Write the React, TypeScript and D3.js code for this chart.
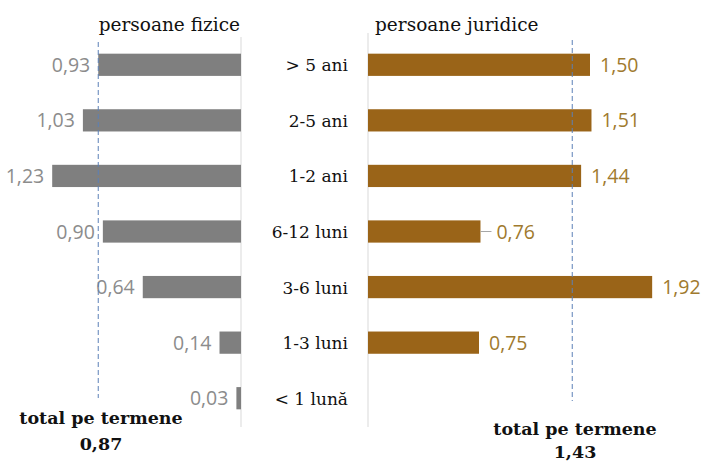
import * as d3 from 'd3';
import React from 'react';

const categories = ['> 5 ani', '2-5 ani', '1-2 ani', '6-12 luni', '3-6 luni', '1-3 luni', '< 1 lună'];
const fiziceValues = [0.93, 1.03, 1.23, 0.9, 0.64, 0.14, 0.03];
const juridiceValues = [1.5, 1.51, 1.44, 0.76, 1.92, 0.75, null];
const totals = [0.87, 1.43];
// where the dashed reference lines sit in the picture
const totalLineAt = [0.93, 1.38];
const titles = ['persoane fizice', 'persoane juridice'];

const W = 702;
const H = 463;
const AXIS_L = 241;
const AXIS_R = 368;

const fmt = (v: number) => v.toFixed(2).replace('.', ',');

export default function App() {
    const y = d3.scaleBand<string>().domain(categories).range([37, 426]).paddingInner(0.6).paddingOuter(0.3);
    const xl = d3.scaleLinear().domain([0, 1]).range([0, 153.5]);
    const xr = d3.scaleLinear().domain([0, 1]).range([0, 148]);
    const bh = y.bandwidth();
    const serif = '"DejaVu Serif", serif';
    const sans = '"Open Sans", sans-serif';

    const leftLine = AXIS_L - xl(totalLineAt[0]);
    const rightLine = AXIS_R + xr(totalLineAt[1]);

    return (
        <svg width={W} height={H} style={{ position: 'absolute', left: 0, top: 0, background: '#fff' }}>
            {/* axes */}
            <line x1={AXIS_L} x2={AXIS_L} y1={37} y2={427} stroke="#d9d9d9" />
            <line x1={AXIS_R} x2={AXIS_R} y1={33} y2={427} stroke="#d9d9d9" />

            <text x={AXIS_L - 1} y={31} textAnchor="end" fontFamily={serif} fontSize={18.5} fill="#111">
                {titles[0]}
            </text>
            <text x={375} y={31} fontFamily={serif} fontSize={18.5} fill="#111">
                {titles[1]}
            </text>

            {categories.map((c, i) => {
                const cy = (y(c) ?? 0) + bh / 2;
                const vl = fiziceValues[i];
                const vr = juridiceValues[i];
                const leader = vr != null && vr < 0.8 && vr > 0.755;
                return (
                    <g key={c}>
                        <text x={348} y={cy + 6.5} textAnchor="end" fontFamily={serif} fontSize={17} fill="#111">
                            {c}
                        </text>
                        <rect x={AXIS_L - xl(vl)} y={y(c)} width={xl(vl)} height={bh} fill="#7f7f7f" />
                        <text
                            x={AXIS_L - xl(vl) - 8}
                            y={cy + 7}
                            textAnchor="end"
                            fontFamily={sans}
                            fontSize={19.5}
                            fill="#8c8c8c"
                        >
                            {fmt(vl)}
                        </text>
                        {vr != null && (
                            <>
                                <rect x={AXIS_R} y={y(c)} width={xr(vr)} height={bh} fill="#9a6418" />
                                {leader && (
                                    <line
                                        x1={AXIS_R + xr(vr)}
                                        x2={AXIS_R + xr(vr) + 11}
                                        y1={cy}
                                        y2={cy}
                                        stroke="#a6a6a6"
                                    />
                                )}
                                <text
                                    x={AXIS_R + xr(vr) + (leader ? 16 : 10)}
                                    y={cy + 7}
                                    fontFamily={sans}
                                    fontSize={19.5}
                                    fill="#a07a2e"
                                >
                                    {fmt(vr)}
                                </text>
                            </>
                        )}
                    </g>
                );
            })}

            {/* dashed total lines */}
            <line x1={leftLine} x2={leftLine} y1={42} y2={398} stroke="#5b80b8" strokeDasharray="5,3" />
            <line x1={rightLine} x2={rightLine} y1={40} y2={401} stroke="#5b80b8" strokeDasharray="5,3" />

            <text x={101} y={424} textAnchor="middle" fontFamily={serif} fontSize={17.5} fontWeight={700} fill="#111">
                total pe termene
            </text>
            <text x={101} y={450} textAnchor="middle" fontFamily={serif} fontSize={17.5} fontWeight={700} fill="#111">
                {fmt(totals[0])}
            </text>
            <text x={575} y={435} textAnchor="middle" fontFamily={serif} fontSize={17.5} fontWeight={700} fill="#111">
                total pe termene
            </text>
            <text x={575} y={458} textAnchor="middle" fontFamily={serif} fontSize={17.5} fontWeight={700} fill="#111">
                {fmt(totals[1])}
            </text>
        </svg>
    );
}
